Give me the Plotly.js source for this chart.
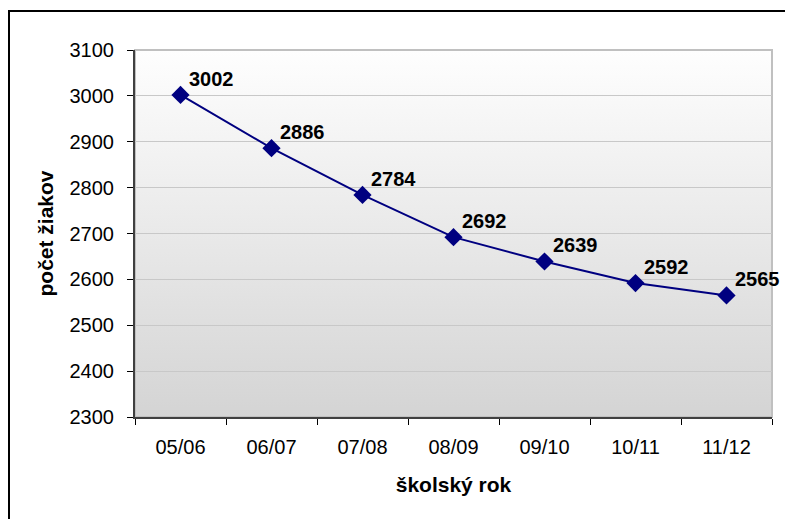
<!DOCTYPE html>
<html>
<head>
<meta charset="utf-8">
<script src="https://cdn.plot.ly/plotly-3.0.1.min.js"></script>
<style>html,body{margin:0;padding:0;background:#fff;}#chart{width:785px;height:519px;}</style>
</head>
<body>
<div id="chart"></div>
<script>
const categories = ["05/06", "06/07", "07/08", "08/09", "09/10", "10/11", "11/12"];
const values = [3002, 2886, 2784, 2692, 2639, 2592, 2565];
const yTicks = [2300, 2400, 2500, 2600, 2700, 2800, 2900, 3000, 3100];
const xTitle = "školský rok";
const yTitle = "počet žiakov";

const font = "Liberation Sans, Arial, sans-serif";

const gradSvg = '<svg xmlns="http://www.w3.org/2000/svg" width="10" height="100" preserveAspectRatio="none">' +
  '<defs><linearGradient id="g" x1="0" y1="0" x2="0" y2="1">' +
  '<stop offset="0" stop-color="#fefefe"/><stop offset="1" stop-color="#d4d4d4"/></linearGradient></defs>' +
  '<rect width="10" height="100" fill="url(#g)"/></svg>';
const gradUri = 'data:image/svg+xml;base64,' + btoa(gradSvg);

const trace = {
  x: categories,
  y: values,
  type: 'scatter',
  mode: 'lines+markers',
  line: {color: '#000080', width: 2},
  marker: {symbol: 'diamond', size: 14, color: '#000080'},
  hoverinfo: 'skip'
};

const annotations = categories.map((c, i) => ({
  x: c, y: values[i], xref: 'x', yref: 'y',
  text: '<b>' + values[i] + '</b>',
  showarrow: false, xanchor: 'left', yanchor: 'bottom',
  xshift: 6, yshift: 3,
  font: {family: font, size: 20, color: '#000'}
}));

const layout = {
  width: 785, height: 519,
  margin: {l: 135, r: 13, t: 50, b: 102},
  paper_bgcolor: '#ffffff',
  plot_bgcolor: 'rgba(0,0,0,0)',
  showlegend: false,
  font: {family: font, size: 20, color: '#000'},
  xaxis: {
    type: 'category',
    tickson: 'boundaries',
    ticks: 'outside', ticklen: 6, tickwidth: 1, tickcolor: '#000',
    showline: true, linecolor: '#404040', linewidth: 2,
    showgrid: false,
    ticklabelstandoff: 11,
    range: [-0.5, 6.5],
    title: {text: '<b>' + xTitle + '</b>', font: {family: font, size: 21}, standoff: 20},
    tickfont: {family: font, size: 20}
  },
  yaxis: {
    range: [2300, 3100],
    tickvals: yTicks,
    ticks: 'outside', ticklen: 6, tickwidth: 1, tickcolor: '#000',
    showline: true, linecolor: '#404040', linewidth: 2,
    showgrid: true, gridcolor: '#c8c8c8', gridwidth: 1,
    zeroline: false,
    ticklabelstandoff: 9,
    title: {text: '<b>' + yTitle + '</b>', font: {family: font, size: 21}, standoff: 10},
    tickfont: {family: font, size: 20}
  },
  images: [{
    source: gradUri, xref: 'paper', yref: 'paper',
    x: 0, y: 1, sizex: 1, sizey: 1, xanchor: 'left', yanchor: 'top',
    sizing: 'stretch', layer: 'below'
  }],
  shapes: [
    {type: 'rect', xref: 'paper', yref: 'paper', x0: 0, x1: 1, y0: 0, y1: 1,
     line: {color: '#c0c0c0', width: 2}, layer: 'below'},
    {type: 'rect', xref: 'paper', yref: 'paper', x0: -0.1978, x1: 1.2, y0: -0.5, y1: 1.1063,
     line: {color: '#000', width: 2}, layer: 'above'}
  ],
  annotations: annotations
};

Plotly.newPlot('chart', [trace], layout, {displayModeBar: false, staticPlot: true});
</script>
</body>
</html>
